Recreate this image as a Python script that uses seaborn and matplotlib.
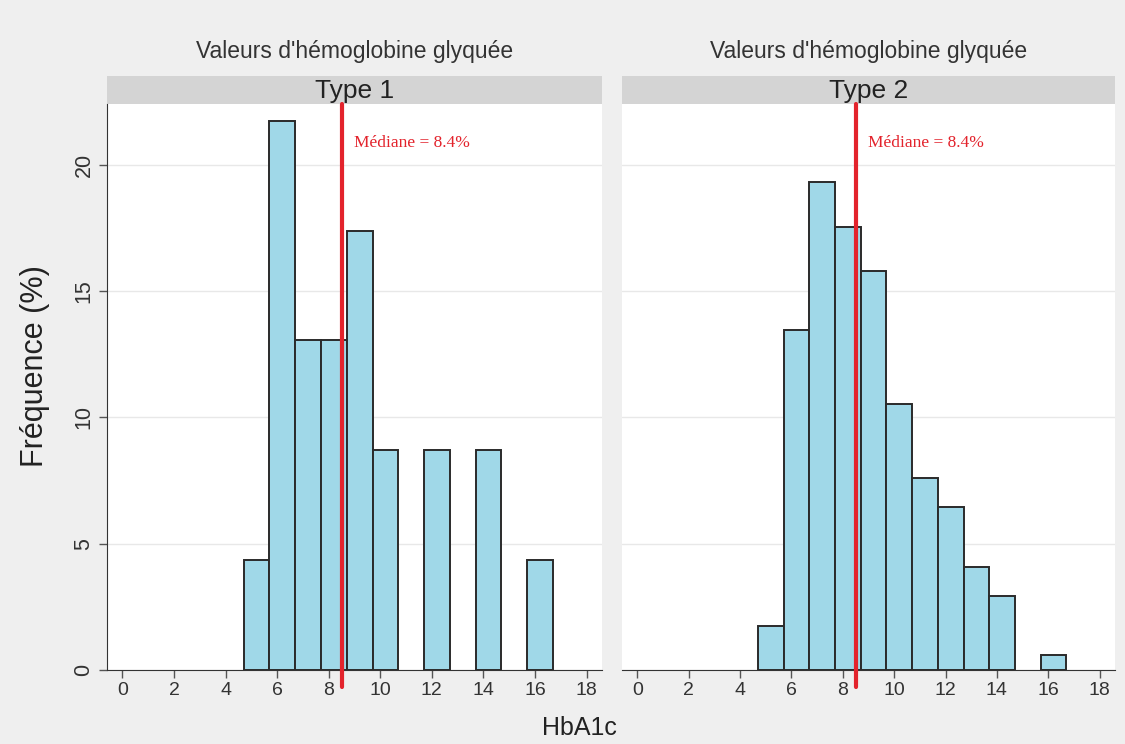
import matplotlib
matplotlib.use("Agg")
import matplotlib.pyplot as plt
import seaborn as sns
import pandas as pd
from matplotlib.patches import Rectangle

# bin midpoints of HbA1c (bins of width 1 starting at 4.7)
bin_mids = [5.2, 6.2, 7.2, 8.2, 9.2, 10.2, 11.2, 12.2, 13.2, 14.2, 15.2, 16.2]
bin_edges = [4.7, 5.7, 6.7, 7.7, 8.7, 9.7, 10.7, 11.7, 12.7, 13.7, 14.7, 15.7, 16.7]

# frequency (%) per bin
type1_pct = [4.35, 21.74, 13.04, 13.04, 17.39, 8.70, 0, 8.70, 0, 8.70, 0, 4.35]
type2_pct = [1.75, 13.45, 19.30, 17.54, 15.79, 10.53, 7.60, 6.43, 4.09, 2.92, 0, 0.58]

panels = ["Type 1", "Type 2"]
median_label = "Médiane = 8.4%"
median_pos = 8.5

x_ticks = [0, 2, 4, 6, 8, 10, 12, 14, 16, 18]
y_ticks = [0, 5, 10, 15, 20]

sns.set_style("white")
plt.rcParams["font.family"] = ["Liberation Sans", "DejaVu Sans"]

bg = "#efefef"
bar_fill = "#a0d8e8"
bar_edge = "#2a2a2a"
red = "#e3232c"
txt = "#333333"

fig = plt.figure(figsize=(11.25, 7.44), dpi=100, facecolor=bg)
ax1 = fig.add_axes([0.0951, 0.0995, 0.44, 0.7608])
ax2 = fig.add_axes([0.5529, 0.0995, 0.4382, 0.7608])

data = {"Type 1": type1_pct, "Type 2": type2_pct}

for i, (ax, name) in enumerate(zip([ax1, ax2], panels)):
    df = pd.DataFrame({"hba1c": bin_mids, "pct": data[name]})
    ax.set_facecolor("white")
    ax.yaxis.grid(True, color="#e8e8e8", linewidth=1)
    ax.set_axisbelow(True)
    sns.histplot(data=df, x="hba1c", weights="pct", bins=bin_edges, ax=ax,
                 color=bar_fill, edgecolor=bar_edge, linewidth=1.4, alpha=1)
    # drop empty bins so they don't draw a flat edge on the axis
    for p in list(ax.patches):
        if p.get_height() == 0:
            p.remove()
    ax.set_xlim(-0.6, 18.6)
    ax.set_ylim(0, 22.4)
    ax.set_xticks(x_ticks)
    ax.set_yticks(y_ticks)
    ax.set_xlabel("")
    ax.set_ylabel("")
    ax.tick_params(axis="x", length=6, width=1, color="#555555", labelsize=14,
                   labelcolor=txt, pad=3, direction="out", bottom=True)
    ax.tick_params(axis="y", length=6, width=1, color="#555555", labelsize=15.5,
                   labelcolor=txt, pad=3, direction="out", left=(i == 0),
                   labelleft=(i == 0), labelrotation=90)
    for lbl in ax.get_yticklabels():
        lbl.set_va("center")
    for s in ["top", "right"]:
        ax.spines[s].set_visible(False)
    ax.spines["bottom"].set_color("#333333")
    ax.spines["left"].set_color("#333333")
    if i == 1:
        ax.spines["left"].set_visible(False)

    # median line and label
    ax.axvline(median_pos, ymin=-0.03, ymax=1, color=red, linewidth=3, clip_on=False, zorder=5)
    ax.text(9.0, 20.85, median_label, color=red, fontsize=12.5,
            family=["Liberation Serif", "DejaVu Serif"], va="center", ha="left")

    # facet header strip and title
    ax.add_patch(Rectangle((0, 1.0), 1, 0.0495, transform=ax.transAxes,
                           facecolor="#d4d4d4", edgecolor="none", clip_on=False))
    ax.text(0.5, 1.023, name, transform=ax.transAxes, ha="center", va="center",
            fontsize=19, color="#222222")
    ax.text(0.5, 1.092, "Valeurs d'hémoglobine glyquée", transform=ax.transAxes,
            ha="center", va="center", fontsize=16.5, color=txt)

fig.text(0.031, 0.508, "Fréquence (%)", rotation=90, ha="center", va="center",
         fontsize=22, color="#222222")
fig.text(0.515, 0.022, "HbA1c", ha="center", va="center", fontsize=18, color="#222222")

fig.savefig("out.png", dpi=100, facecolor=bg)
